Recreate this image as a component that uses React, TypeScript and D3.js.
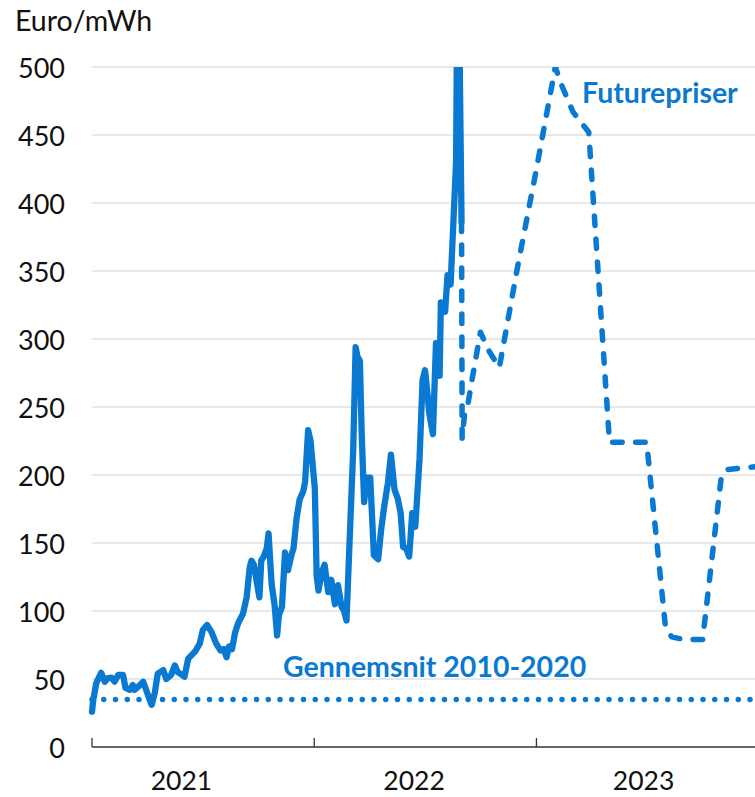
import React from "react";
import * as d3 from "d3";

// Spot electricity price (Euro/MWh), daily-ish observations
const spotDates = [
  "2021-01-01","2021-01-03","2021-01-08","2021-01-16","2021-01-22","2021-01-27","2021-02-02","2021-02-07",
  "2021-02-13","2021-02-21","2021-02-25","2021-03-04","2021-03-09","2021-03-12","2021-03-17","2021-03-26",
  "2021-03-31","2021-04-06","2021-04-09","2021-04-14","2021-04-19","2021-04-28","2021-05-03","2021-05-11",
  "2021-05-17","2021-05-22","2021-06-02","2021-06-08","2021-06-19","2021-06-27","2021-07-02","2021-07-09",
  "2021-07-16","2021-07-24","2021-07-31","2021-08-05","2021-08-10","2021-08-14","2021-08-19","2021-08-24",
  "2021-08-29","2021-09-06","2021-09-12","2021-09-17","2021-09-20","2021-09-24","2021-09-28","2021-10-03",
  "2021-10-06","2021-10-10","2021-10-15","2021-10-18","2021-10-23","2021-10-28","2021-11-01","2021-11-04",
  "2021-11-09","2021-11-14","2021-11-19","2021-11-25","2021-11-28","2021-12-03","2021-12-08","2021-12-14",
  "2021-12-17","2021-12-22","2021-12-26","2021-12-30","2022-01-02","2022-01-05","2022-01-08","2022-01-13",
  "2022-01-18","2022-01-24","2022-01-29","2022-02-04","2022-02-09","2022-02-15","2022-02-19","2022-02-23",
  "2022-02-28","2022-03-06","2022-03-10","2022-03-13","2022-03-17","2022-03-20","2022-03-24","2022-03-28",
  "2022-04-03","2022-04-09","2022-04-16","2022-04-21","2022-04-26","2022-05-02","2022-05-07","2022-05-13",
  "2022-05-18","2022-05-23","2022-05-27","2022-06-01","2022-06-06","2022-06-11","2022-06-16","2022-06-23",
  "2022-06-28","2022-07-02","2022-07-06","2022-07-09","2022-07-15","2022-07-20","2022-07-26","2022-07-28",
  "2022-08-04","2022-08-08","2022-08-13","2022-08-22","2022-08-25","2022-08-31"
];
const spotPrices = [
  26, 34.5, 47, 54.6, 48, 50.7, 51, 48,
  53, 53, 43.4, 42, 45.6, 42, 44, 48,
  42, 34.5, 31, 39.5, 54, 56.6, 50, 53,
  60, 55, 51.7, 65, 70, 76, 86, 89.7,
  84.8, 76, 71, 72, 66, 74, 72, 84,
  91, 98, 110, 132, 137, 134, 123, 110,
  137, 140, 146, 157, 120, 104, 82, 97,
  103, 143, 130, 142, 146, 168, 182, 188,
  195, 233, 225, 205, 190, 126, 115, 128,
  134, 114, 123, 105, 119, 103, 100, 93,
  150, 218, 294, 287, 284, 230, 180, 198,
  198, 141, 138, 160, 177, 194, 215, 189,
  183, 172, 147, 146, 140, 172, 162, 212,
  270, 277, 260, 245, 230, 297, 273, 327,
  320, 347, 340, 430, 620, 386
];

// Futures prices
const futureDates = [
  "2022-08-31","2022-09-01","2022-09-05","2022-09-10","2022-09-18","2022-10-01","2022-10-14","2022-11-01",
  "2022-12-01","2023-01-01","2023-02-01","2023-02-12","2023-03-02","2023-03-28","2023-05-01","2023-07-01",
  "2023-08-01","2023-08-11","2023-09-01","2023-10-01","2023-11-01","2023-11-10","2023-12-26"
];
const futurePrices = [
  386, 227, 245, 251, 272, 305, 292, 279,
  353, 425, 500, 486, 467, 452, 224, 224,
  88, 81, 79, 79, 200, 204, 206
];

const averageValue = 35; // Gennemsnit 2010-2020
const averageLabel = "Gennemsnit 2010-2020";
const futuresLabel = "Futurepriser";
const yTicks = [0, 50, 100, 150, 200, 250, 300, 350, 400, 450, 500];
const yearTicks = ["2021-01-01", "2022-01-01", "2023-01-01"];
const yearLabels = ["2021", "2022", "2023"];
const yearLabelDates = ["2021-05-28", "2022-06-14", "2023-06-26"];
const domainDates = ["2021-01-01", "2023-12-26"];
const unitLabel = "Euro/mWh";

const W = 755;
const H = 797;
const BLUE = "#0a79d2";
const FONT = "Lato, 'Open Sans', sans-serif";

export default function App() {
  const parse = d3.utcParse("%Y-%m-%d");
  const x = d3
    .scaleUtc()
    .domain(domainDates.map((d) => parse(d) as Date))
    .range([92, 755]);
  const y = d3.scaleLinear().domain([0, 500]).range([747, 67]);

  const spot = spotDates.map((d, i) => ({ t: parse(d) as Date, v: spotPrices[i] }));
  const fut = futureDates.map((d, i) => ({ t: parse(d) as Date, v: futurePrices[i] }));

  const line = d3
    .line<{ t: Date; v: number }>()
    .x((d) => x(d.t))
    .y((d) => y(d.v));

  const x0 = x.range()[0];
  const x1 = x.range()[1];

  return (
    <>
      <style>{`body{margin:0;}`}</style>
      <svg width={W} height={H} style={{ display: "block", fontFamily: FONT }}>
        <defs>
          <clipPath id="plotClip">
            <rect x={0} y={y(500)} width={W} height={H - y(500)} />
          </clipPath>
        </defs>
        {/* gridlines */}
        {yTicks
          .filter((v) => v > 0)
          .map((v) => (
            <line key={v} x1={x0} x2={x1} y1={y(v)} y2={y(v)} stroke="#d2d2d2" strokeWidth={1.2} />
          ))}
        {/* y tick labels */}
        {yTicks.map((v) => (
          <text
            key={"l" + v}
            x={65}
            y={y(v)}
            textAnchor="end"
            dominantBaseline="central"
            fontSize={27}
            fill="#111"
          >
            {v}
          </text>
        ))}
        <text x={15} y={31} fontSize={28.5} fill="#111">
          {unitLabel}
        </text>
        {/* x axis */}
        <line x1={x0} x2={x1} y1={y(0)} y2={y(0)} stroke="#333" strokeWidth={1.3} />
        {yearTicks.map((d) => {
          const xx = x(parse(d) as Date);
          return <line key={d} x1={xx} x2={xx} y1={y(0)} y2={y(0) - 9} stroke="#333" strokeWidth={1.3} />;
        })}
        {yearLabels.map((l, i) => (
          <text
            key={l}
            x={x(parse(yearLabelDates[i]) as Date)}
            y={790}
            textAnchor="middle"
            fontSize={26.5}
            fill="#111"
          >
            {l}
          </text>
        ))}
        {/* average dotted line */}
        <line
          x1={x0}
          x2={x1}
          y1={y(averageValue)}
          y2={y(averageValue)}
          stroke={BLUE}
          strokeWidth={5.5}
          strokeLinecap="round"
          strokeDasharray="0 11.75"
        />
        <g clipPath="url(#plotClip)">
          <path
            d={line(fut) || ""}
            fill="none"
            stroke={BLUE}
            strokeWidth={5.5}
            strokeLinecap="round"
            strokeLinejoin="round"
            strokeDasharray="9.5 13.5"
          />
          <path
            d={line(spot) || ""}
            fill="none"
            stroke={BLUE}
            strokeWidth={6.3}
            strokeLinejoin="round"
            strokeLinecap="round"
          />
        </g>
        <text x={582} y={103} fontSize={28.5} fontWeight={700} fill={BLUE}>
          {futuresLabel}
        </text>
        <text x={283} y={677} fontSize={28.5} fontWeight={700} fill={BLUE}>
          {averageLabel}
        </text>
      </svg>
    </>
  );
}
